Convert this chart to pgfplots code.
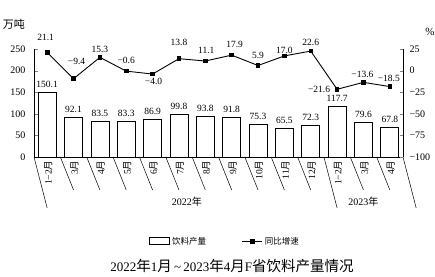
\documentclass[border=0pt]{standalone}
\usepackage{pgfplots}
\pgfplotsset{compat=1.18}
\usepackage{pgfplotstable}
\usepackage{fontspec}
\setmainfont{Liberation Serif}
\newfontfamily\cjk{Noto Sans CJK SC}

\pgfplotsset{
  linelegend/.style={legend image code/.code={%
    \draw[##1] (0pt,0pt) -- (20pt,0pt);
    \path[##1] plot coordinates {(10pt,0pt)};}},
  barlegend/.style={legend image code/.code={%
    \draw[line width=0.7pt] (0pt,-3.5pt) rectangle (20pt,3.5pt);}},
}

% monthly beverage output (10k t) and year-on-year growth (%)
\pgfplotstableread{
x prod plab yoy ylab dx dy
0  150.1 150.1  21.1  21.1  -1.5  15
1  92.1  92.1   -9.4  −9.4   3    17
2  83.5  83.5   15.3  15.3   0     8
3  83.3  83.3   -0.6  −0.6   0    11
4  86.9  86.9   -4.0  −4.0   1    -7
5  99.8  99.8   13.8  13.8   0    16
6  93.8  93.8   11.1  11.1   1    11
7  91.8  91.8   17.9  17.9   3    11
8  75.3  75.3    5.9   5.9   0    10
9  65.5  65.5   17.0  17.0   0     6
10 72.3  72.3   22.6  22.6   0     9
11 117.7 117.7 -21.6  −21.6 -18    0
12 79.6  79.6  -13.6  −13.6  -1    8
13 67.8  67.8  -18.5  −18.5  -1    8
}\datatable

\newcommand\zh[1]{{\cjk\fontsize{14.5}{14.5}\selectfont #1}}

\begin{document}
\begin{tikzpicture}
\useasboundingbox (-34pt,-119pt) rectangle (401pt,157pt);
\begin{axis}[
  scale only axis, width=369pt, height=108pt,
  xmin=-0.5, xmax=13.5, ymin=0, ymax=250,
  axis lines*=left, axis line style={line width=0.6pt},
  clip=false,
  ytick={0,50,...,250},
  yticklabels={0,50,100,150,200,250},
  yticklabel style={font=\fontsize{10}{10}\selectfont, xshift=-5pt},
  ytick align=inside, major tick length=3.5pt,
  xtick={0,...,13},
  xticklabels={1−2{\cjk 月},3{\cjk 月},4{\cjk 月},5{\cjk 月},6{\cjk 月},7{\cjk 月},8{\cjk 月},9{\cjk 月},10{\cjk 月},11{\cjk 月},12{\cjk 月},1−2{\cjk 月},3{\cjk 月},4{\cjk 月}},
  xtick style={draw=none},
  xticklabel style={rotate=90, anchor=east, font=\fontsize{9.5}{9.5}\selectfont, yshift=-1pt},
  legend columns=2,
  legend style={draw=none, at={(0.518,-0.78)}, anchor=center,
    font=\cjk\fontsize{8.5}{8.5}\selectfont,
    /tikz/every even column/.append style={column sep=34pt}},
]
\addplot[ybar, bar width=18pt, fill=white, draw=black, line width=0.7pt,
  point meta=explicit symbolic, nodes near coords,
  nodes near coords style={font=\fontsize{9.5}{9.5}\selectfont, anchor=south, yshift=1pt},
  barlegend]
  table[x=x, y=prod, meta=plab] {\datatable};
\addlegendentry{饮料产量}
\addlegendimage{black, line width=0.9pt, mark=square*, mark size=1.8pt, linelegend}
\addlegendentry{同比增速}
% category separators below the axis
\pgfplotsinvokeforeach{0.5,1.5,2.5,3.5,4.5,5.5,6.5,7.5,8.5,9.5,11.5,12.5}{
  \draw[line width=0.5pt] (axis cs:#1,0) -- ++(0,-33pt);}
\pgfplotsinvokeforeach{-0.5,10.5,13.5}{
  \draw[line width=0.5pt] (axis cs:#1,0) -- ++(0,-51pt);}
\node[font=\fontsize{10}{10}\selectfont] at ([yshift=-45pt]axis cs:5.3,0) {2022{\cjk 年}};
\node[font=\fontsize{10}{10}\selectfont] at ([yshift=-45pt]axis cs:12,0) {2023{\cjk 年}};
\end{axis}
\begin{axis}[
  scale only axis, width=369pt, height=108pt,
  xmin=-0.5, xmax=13.5, ymin=-100, ymax=25,
  axis y line*=right, axis x line=none, axis line style={line width=0.6pt},
  clip=false,
  ytick={-100,-75,...,25},
  yticklabels={−100,−75,−50,−25,0,25},
  yticklabel style={font=\fontsize{10}{10}\selectfont, anchor=west, xshift=3pt},
  ytick align=inside, major tick length=3.5pt,
]
\addplot[black, line width=0.9pt, mark=square*, mark size=1.8pt,
  point meta=explicit symbolic, nodes near coords,
  visualization depends on={\thisrow{dx} \as \dx},
  visualization depends on={\thisrow{dy} \as \dy},
  nodes near coords style={font=\fontsize{9.5}{9.5}\selectfont, anchor=center,
    xshift=\dx pt, yshift=\dy pt}]
  table[x=x, y=yoy, meta=ylab] {\datatable};
\end{axis}
\node[font=\cjk\fontsize{11}{11}\selectfont] at (-20pt,133pt) {万吨};
\node[font=\fontsize{11}{11}\selectfont] at (396pt,125pt) {\%};
\node[font=\fontsize{13}{13}\selectfont] at (198pt,-109pt)
  {2022\zh{年}1\zh{月}\,\char"7E\,2023\zh{年}4\zh{月}F\zh{省饮料产量情况}};
\end{tikzpicture}
\end{document}
